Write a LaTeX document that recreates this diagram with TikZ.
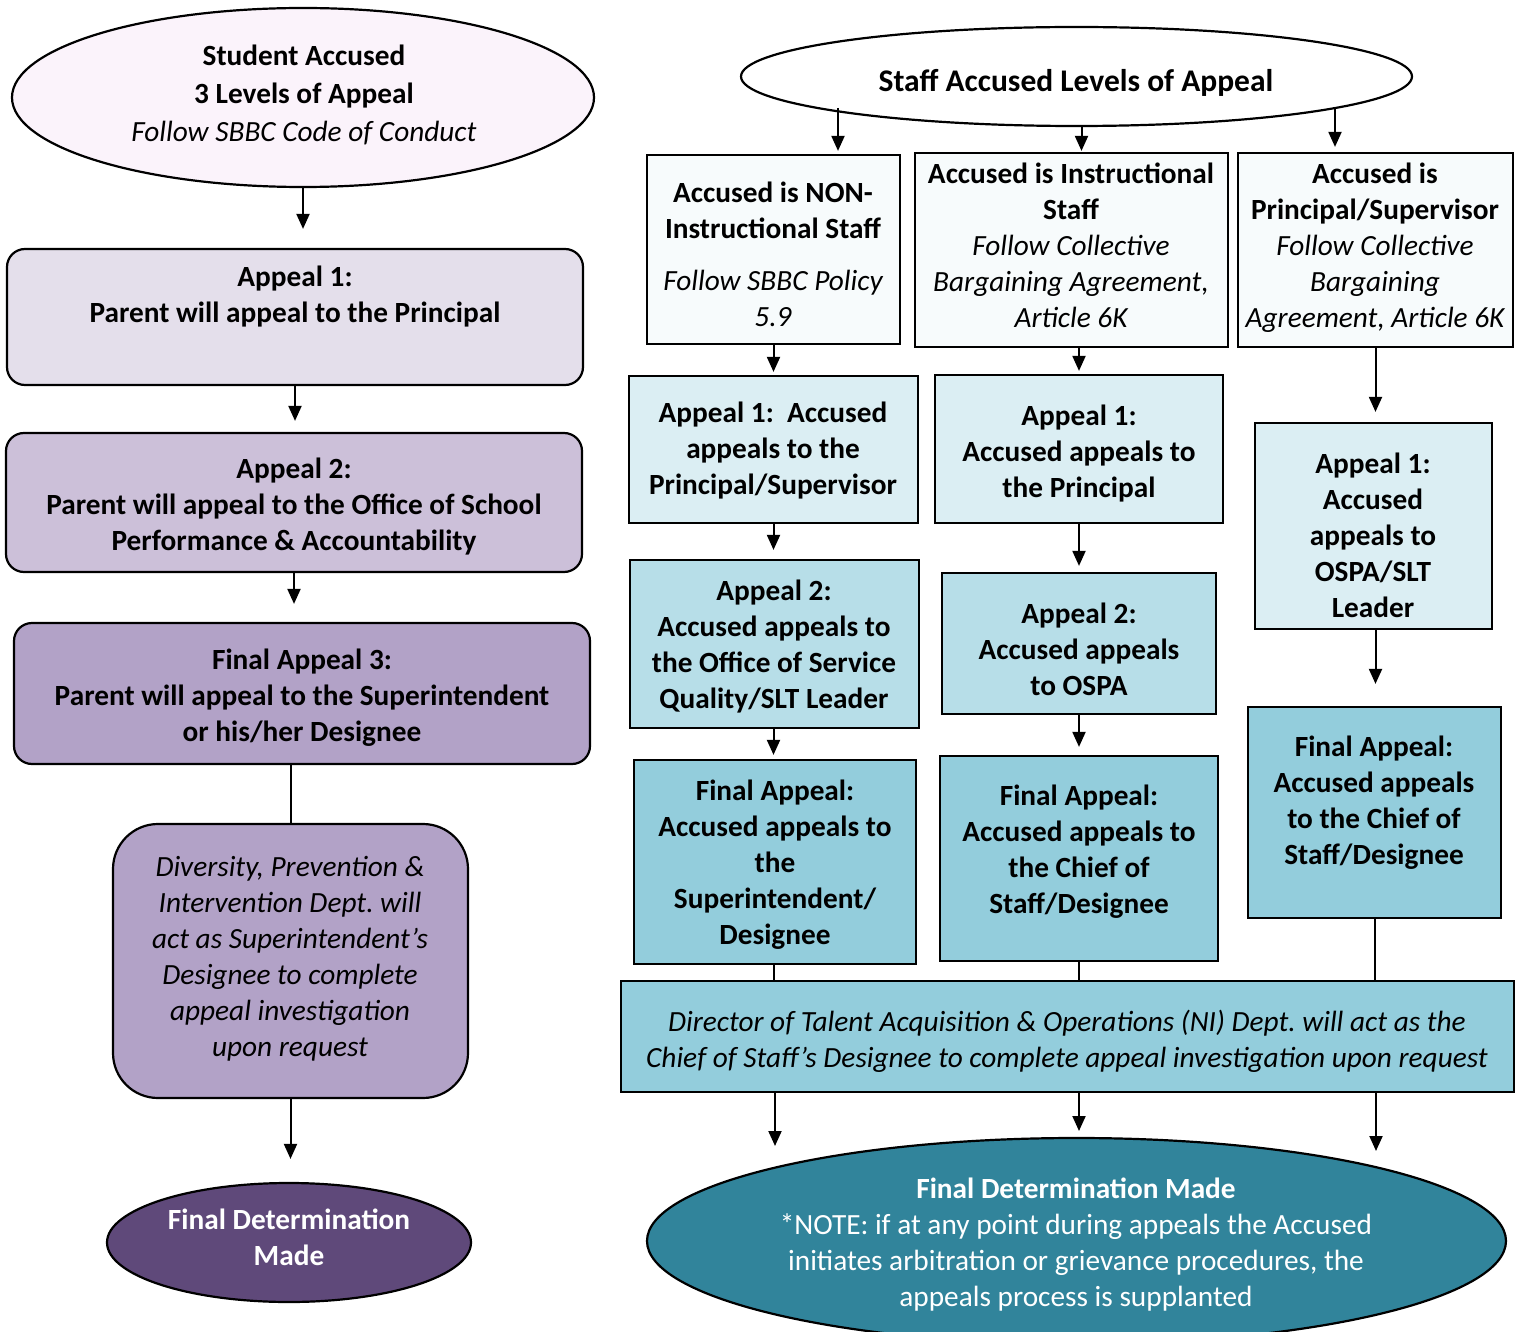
\documentclass[tikz,border=0pt]{standalone}
\usepackage{fontspec}
\setmainfont{Carlito}
\frenchspacing
\usetikzlibrary{arrows.meta,shapes.geometric}
\definecolor{cEllA}{HTML}{FBF3FB}
\definecolor{cA1}{HTML}{E4DFEB}
\definecolor{cA2}{HTML}{CCC0D9}
\definecolor{cA3}{HTML}{B2A2C7}
\definecolor{cFinL}{HTML}{5F497A}
\definecolor{cWhiteBox}{HTML}{F7FBFC}
\definecolor{cB1}{HTML}{DBEEF3}
\definecolor{cB2}{HTML}{B7DEE8}
\definecolor{cB3}{HTML}{93CDDC}
\definecolor{cTeal}{HTML}{31849B}
\begin{document}
\begin{tikzpicture}[x=1pt,y=-1pt,
  shp/.style={draw=black, line width=2.2pt, inner sep=0pt},
  sqbox/.style={shp, rectangle},
  rbox/.style={shp, rectangle, rounded corners=18pt},
  ell/.style={shp, ellipse},
  txt/.style={align=center, inner sep=0pt, font=\fontsize{29.3}{36}\selectfont\bfseries,
     execute at begin node=\strut, execute at end node=\strut, yshift=-3pt},
  itxt/.style={txt, font=\fontsize{29.3}{36}\selectfont\itshape},
  arr/.style={line width=2pt, -{Triangle[length=15pt,width=13pt]}},
  ln/.style={line width=2pt}]
\useasboundingbox (0,0) rectangle (1521,1332);
\fill[white] (0,0) rectangle (1521,1332);

% ---------------- left column ----------------
\node[ell, fill=cEllA, minimum width=582pt, minimum height=179pt] (ellA) at (303,97.5) {};
\node[txt, font=\fontsize{29.3}{38}\selectfont\bfseries] (ellAt) at (304,96) {Student Accused\\3 Levels of Appeal\\\mdseries\itshape Follow SBBC Code of Conduct};

\node[rbox, fill=cA1, minimum width=576pt, minimum height=136pt] (a1) at (295,317) {};
\node[txt] (a1t) at (295,297) {Appeal 1:\\Parent will appeal to the Principal};

\node[rbox, fill=cA2, minimum width=576pt, minimum height=139pt] (a2) at (294,502.5) {};
\node[txt] (a2t) at (294,507) {Appeal 2:\\Parent will appeal to the Office of School\\Performance \& Accountability};

\node[rbox, fill=cA3, minimum width=576pt, minimum height=141pt] (a3) at (302,693.5) {};
\node[txt] (a3t) at (302,698) {Final Appeal 3:\\Parent will appeal to the Superintendent\\or his/her Designee};

\node[shp, rectangle, rounded corners=45pt, fill=cA3, minimum width=355pt, minimum height=274pt] (dv) at (290.5,961) {};
\node[itxt] (dvt) at (290,959) {Diversity, Prevention \&\\Intervention Dept. will\\act as Superintendent’s\\Designee to complete\\appeal investigation\\upon request};

\node[ell, fill=cFinL, minimum width=364pt, minimum height=119pt] (finL) at (289,1242.5) {};
\node[txt, text=white] (finLt) at (289,1240) {Final Determination\\Made};

\draw[arr, shorten >=19pt] (ellA.south) -- (ellA.south |- a1.north);
\draw[arr, shorten >=11pt] (a1.south) -- (a1.south |- a2.north);
\draw[arr, shorten >=18pt] (a2.south) -- (a2.south |- a3.north);
\draw[ln] (dv.north |- a3.south) -- (dv.north);
\draw[arr, shorten >=23pt] (dv.south) -- (dv.south |- finL.north);

% ---------------- right column ----------------
\node[ell, fill=white, minimum width=671pt, minimum height=99pt] (staff) at (1076.5,76.5) {};
\node[txt, font=\fontsize{31.5}{36}\selectfont\bfseries] (stafft) at (1076,81) {Staff Accused Levels of Appeal};

\node[sqbox, fill=cWhiteBox, minimum width=253pt, minimum height=189pt] (nb) at (773.5,249.5) {};
\node[txt] (nbt) at (773,257) {Accused is NON-\\Instructional Staff\\[16pt]\mdseries\itshape Follow SBBC Policy\\\mdseries\itshape 5.9};

\node[sqbox, fill=cWhiteBox, minimum width=313pt, minimum height=194pt] (ib) at (1071.5,250) {};
\node[txt] (ibt) at (1071,248) {Accused is Instructional\\Staff\\\mdseries\itshape Follow Collective\\\mdseries\itshape Bargaining Agreement,\\\mdseries\itshape Article 6K};

\node[sqbox, fill=cWhiteBox, minimum width=275pt, minimum height=194pt] (pb) at (1375.5,250) {};
\node[txt] (pbt) at (1375,248) {Accused is\\Principal/Supervisor\\\mdseries\itshape Follow Collective\\\mdseries\itshape Bargaining\\\mdseries\itshape Agreement, Article 6K};

\node[sqbox, fill=cB1, minimum width=289pt, minimum height=147pt] (n1) at (773.5,449.5) {};
\node[txt] (n1t) at (773,451) {Appeal 1:\ \ Accused\\appeals to the\\Principal/Supervisor};

\node[sqbox, fill=cB1, minimum width=288pt, minimum height=148pt] (i1) at (1079,449) {};
\node[txt] (i1t) at (1079,454) {Appeal 1:\\Accused appeals to\\the Principal};

\node[sqbox, fill=cB1, minimum width=237pt, minimum height=206pt] (p1) at (1373.5,526) {};
\node[txt] (p1t) at (1373,538) {Appeal 1:\\Accused\\appeals to\\OSPA/SLT\\Leader};

\node[sqbox, fill=cB2, minimum width=289pt, minimum height=168pt] (n2) at (774.5,644) {};
\node[txt] (n2t) at (774,647) {Appeal 2:\\Accused appeals to\\the Office of Service\\Quality/SLT Leader};

\node[sqbox, fill=cB2, minimum width=274pt, minimum height=141pt] (i2) at (1079,643.5) {};
\node[txt] (i2t) at (1079,652) {Appeal 2:\\Accused appeals\\to OSPA};

\node[sqbox, fill=cB3, minimum width=253pt, minimum height=211pt] (p3) at (1374.5,812.5) {};
\node[txt] (p3t) at (1374,803) {Final Appeal:\\Accused appeals\\to the Chief of\\Staff/Designee};

\node[sqbox, fill=cB3, minimum width=282pt, minimum height=204pt] (n3) at (775,862) {};
\node[txt] (n3t) at (775,865) {Final Appeal:\\Accused appeals to\\the\\Superintendent/\\Designee};

\node[sqbox, fill=cB3, minimum width=278pt, minimum height=205pt] (i3) at (1079,858.5) {};
\node[txt] (i3t) at (1079,852) {Final Appeal:\\Accused appeals to\\the Chief of\\Staff/Designee};

\node[sqbox, fill=cB3, minimum width=893pt, minimum height=111pt] (dir) at (1067.5,1036.5) {};
\node[itxt] (dirt) at (1067,1041) {Director of Talent Acquisition \& Operations (NI) Dept. will act as the\\Chief of Staff’s Designee to complete appeal investigation upon request};

\node[ell, fill=cTeal, minimum width=859pt, minimum height=206pt] (finR) at (1076.5,1241) {};
\node[txt, text=white] (finRt) at (1076,1244.5) {Final Determination Made\\\mdseries *NOTE: if at any point during appeals the Accused\\\mdseries initiates arbitration or grievance procedures, the\\\mdseries appeals process is supplanted};

% connectors, right
\coordinate (sL) at (838,108);
\coordinate (sR) at (1335,108);
\draw[arr, shorten >=3pt] (sL) -- (sL |- nb.north);
\draw[arr, shorten >=1pt] (staff.south -| ib.north) ++(10,0) coordinate (sM) -- (sM |- ib.north);
\draw[arr, shorten >=5pt] (sR) -- (sR |- pb.north);

\draw[arr, shorten >=3pt] (nb.south) -- (nb.south |- n1.north);
\draw[arr, shorten >=3pt] (i1.north |- ib.south) -- (i1.north);
\draw[arr, shorten >=10pt] (pb.south) -- (pb.south |- p1.north);

\draw[arr, shorten >=9pt] (n1.south) -- (n1.south |- n2.north);
\draw[arr, shorten >=6pt] (i1.south) -- (i2.north);
\draw[arr, shorten >=22pt] (pb.south |- p1.south) -- (pb.south |- p3.north);

\draw[arr, shorten >=4pt] (n2.south -| n1.south) -- (n1.south |- n3.north);
\draw[arr, shorten >=8pt] (i2.south) -- (i3.north);

\draw[ln] (n3.south -| n1.south) -- (n1.south |- dir.north);
\draw[ln] (i3.south) -- (i3.south |- dir.north);
\draw[ln] (p3.south) -- (p3.south |- dir.north);

\coordinate (fe1) at (775,1146);
\coordinate (fe2) at (1079,1131);
\coordinate (fe3) at (1376,1151);
\draw[arr] (fe1 |- dir.south) -- (fe1);
\draw[arr] (fe2 |- dir.south) -- (fe2);
\draw[arr] (fe3 |- dir.south) -- (fe3);
\end{tikzpicture}
\end{document}
